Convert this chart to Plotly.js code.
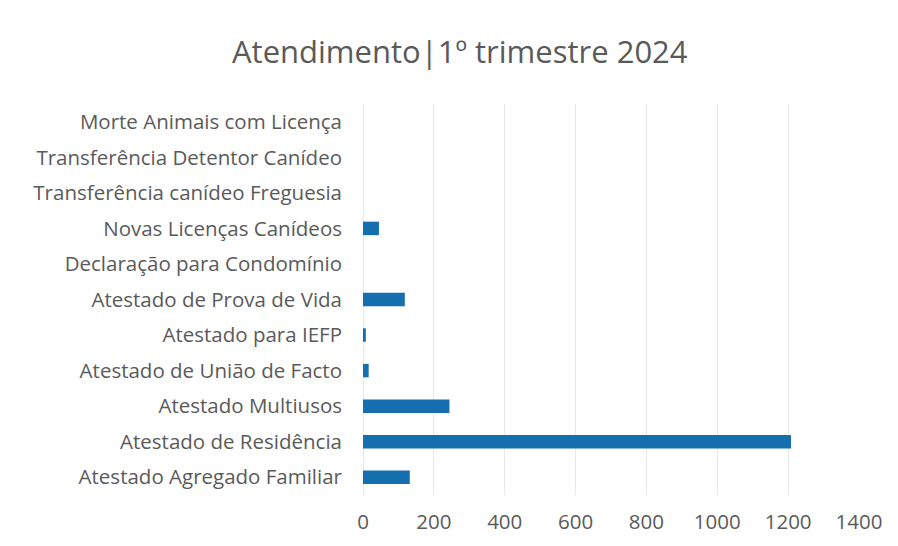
<!DOCTYPE html>
<html>
<head>
<meta charset="utf-8">
<script src="https://cdn.plot.ly/plotly-3.0.1.min.js"></script>
<style>html,body{margin:0;padding:0;background:#fff;}#chart{width:898px;height:546px;}</style>
</head>
<body>
<div id="chart"></div>
<script>
const categories = [
  "Atestado Agregado Familiar",
  "Atestado de Residência",
  "Atestado Multiusos",
  "Atestado de União de Facto",
  "Atestado para IEFP",
  "Atestado de Prova de Vida",
  "Declaração para Condomínio",
  "Novas Licenças Canídeos",
  "Transferência canídeo Freguesia",
  "Transferência Detentor Canídeo",
  "Morte Animais com Licença"
];
const values = [132, 1208, 244, 16, 8, 118, 0, 45, 0, 0, 0];
const xTicks = [0, 200, 400, 600, 800, 1000, 1200, 1400];

const trace = {
  type: "bar",
  orientation: "h",
  y: categories,
  x: values,
  marker: {color: "#156fae"},
  hoverinfo: "x+y"
};

const layout = {
  width: 898,
  height: 546,
  paper_bgcolor: "#fff",
  plot_bgcolor: "#fff",
  font: {family: "Open Sans, Liberation Sans, sans-serif", color: "#595959"},
  title: {
    text: "Atendimento|1º trimestre 2024",
    font: {size: 31, color: "#5a5a5a", family: "Open Sans, sans-serif"},
    x: 0.512, xanchor: "center",
    y: 1 - 52/546, yanchor: "middle", yref: "container"
  },
  margin: {l: 363, r: 39, t: 104, b: 51},
  bargap: 0.62,
  showlegend: false,
  xaxis: {
    range: [0, 1400],
    tickvals: xTicks,
    ticktext: xTicks.map(String),
    showgrid: true,
    gridcolor: "#e8e8e8",
    gridwidth: 1,
    zeroline: true,
    zerolinecolor: "#e8e8e8",
    showline: false,
    ticks: "",
    tickfont: {size: 20.5, color: "#5a5a5a"},
    ticklabelstandoff: 12,
    fixedrange: true
  },
  yaxis: {
    type: "category",
    categoryorder: "array",
    categoryarray: categories,
    showgrid: false,
    zeroline: false,
    showline: false,
    ticks: "",
    tickfont: {size: 20.5, color: "#5a5a5a"},
    ticklabelstandoff: 20,
    fixedrange: true
  }
};

Plotly.newPlot("chart", [trace], layout, {displayModeBar: false, staticPlot: true});
</script>
</body>
</html>
